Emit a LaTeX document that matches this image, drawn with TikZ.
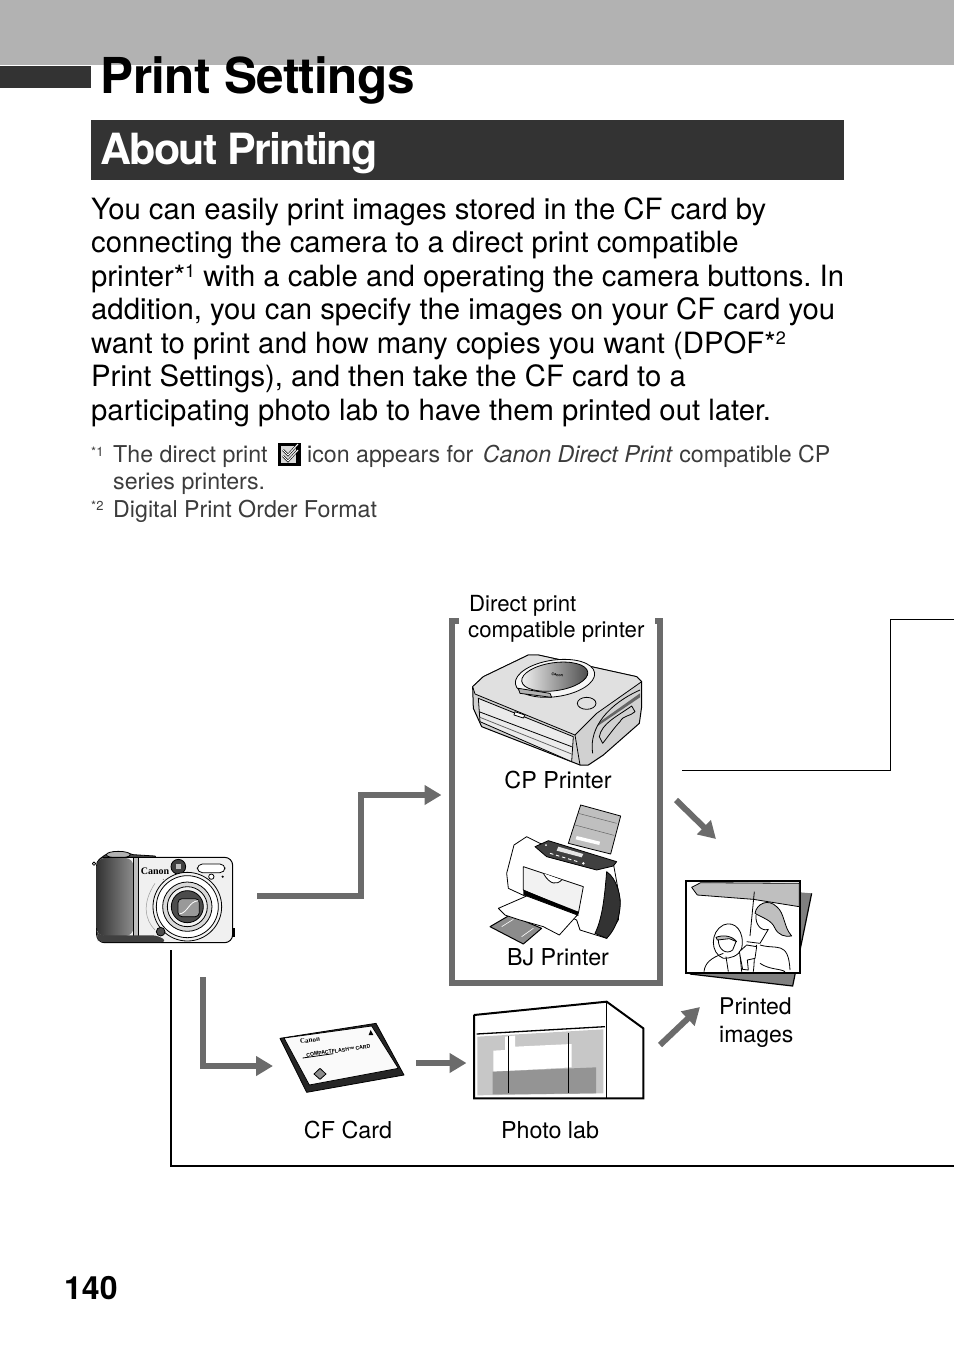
\documentclass[tikz,border=0pt]{standalone}
\usepackage{fontspec}
\setmainfont{TeX Gyre Heros}
\newfontfamily\logofont{Liberation Serif}
\usetikzlibrary{arrows.meta}
\definecolor{bandgray}{HTML}{B2B2B2}
\definecolor{darkband}{HTML}{333333}
\definecolor{flowgray}{HTML}{6B6B6B}
\definecolor{notegray}{HTML}{3C3C3C}
\tikzset{
	flowarrow/.style={draw=flowgray,line width=6pt,-{Triangle[length=17pt,width=19pt]}},
	pagerule/.style={draw=black,line width=1pt},
	bodytext/.style={anchor=north west,inner sep=0pt,align=left,font=\frenchspacing\fontsize{29.3}{33.5}\selectfont},
	notetext/.style={anchor=base west,inner sep=0pt,text=notegray,font=\frenchspacing\fontsize{23.2}{27}\selectfont},
	notemark/.style={anchor=base west,inner sep=0pt,text=notegray,font=\fontsize{13}{14}\selectfont},
	labeltext/.style={anchor=base,inner sep=0pt,font=\fontsize{23.3}{27}\selectfont},
	headtext/.style={anchor=base west,inner sep=0pt,font=\fontsize{22.2}{26}\selectfont},
	sketch/.style={draw=black,line width=0.8pt,line join=round}
}
\newcommand{\smallsup}[1]{\smash{\raisebox{9pt}{\fontsize{18}{18}\selectfont #1}}}
\begin{document}
\begin{tikzpicture}[x=1pt,y=-1pt]
\useasboundingbox (0,0) rectangle (954,1345);

\fill[bandgray] (0,0) rectangle (954,65);
\fill[darkband] (0,66) rectangle (91,88);
\fill[darkband] (91,120) rectangle (844,180);
\node[anchor=base west,inner sep=0pt,font=\bfseries\fontsize{49.5}{50}\selectfont\addfontfeature{LetterSpace=-1.3}] (title) at (100.5,93.5) {Print Settings};
\node[anchor=base west,inner sep=0pt,text=white,font=\bfseries\fontsize{43}{44}\selectfont\addfontfeature{LetterSpace=-4.2}] (heading) at (100.5,164.5) {About Printing};

\node[bodytext] (intro) at (91,197) {You can easily print images stored in the CF card by\\
connecting the camera to a direct print compatible\\
printer*\smallsup{1} with a cable and operating the camera buttons. In\\
addition, you can specify the images on your CF card you\\
want to print and how many copies you want (DPOF*\smallsup{2}\\
Print Settings), and then take the CF card to a\\
participating photo lab to have them printed out later.};

\node[notemark] (markA) at (91,456) {*1};
\node[notetext] (noteA) at (113,462) {The direct print};
\node[fill=black,minimum size=23pt,inner sep=0pt] (icon) at (289.5,454.5) {};
\fill[black!15] (281,446) rectangle (296,463);
\draw[black,line width=2.2pt] (283,450) to (288,455) to (298,444);
\draw[white,line width=1pt] (283,450) to (288,455) to (298,444);
\draw[black,line width=2.2pt] (283,456) to (288,461) to (298,450);
\draw[white,line width=1pt] (283,456) to (288,461) to (298,450);
\node[notetext] (noteB) at (307,462) {icon appears for\hspace{3pt} \textit{Canon Direct Print} compatible CP};
\node[notetext] (noteC) at (113,489) {series printers.};
\node[notemark] (markB) at (91,510) {*2};
\node[notetext] (noteD) at (113,517) {Digital Print Order Format};

\draw[pagerule] (954,619) to (890.5,619) to (890.5,770.5) to (682,770.5);
\draw[pagerule,line width=2pt] (171,950) to (171,1165.5) to (954,1165.5);

\draw[flowgray,line width=6pt] (459,620.5) to (451.5,620.5) to (451.5,983) to (659.5,983) to (659.5,620.5) to (655,620.5);
\node[headtext] (printerhead) at (469,611) {Direct print};
\node[headtext] (printerheadB) at (468,637) {compatible printer};
\node[labeltext] (cplabel) at (558,788) {CP Printer};
\node[labeltext] (bjlabel) at (558,965) {BJ Printer};
\node[labeltext] (cardlabel) at (348,1138) {CF Card};
\node[labeltext] (lablabel) at (550,1138) {Photo lab};
\node[labeltext,anchor=base west,font=\fontsize{23}{27}\selectfont] (printedA) at (719,1014.5) {Printed};
\node[labeltext,anchor=base west,font=\fontsize{23}{27}\selectfont] (printedB) at (719,1042.5) {images};
\node[anchor=base west,inner sep=0pt,font=\bfseries\fontsize{32}{32}\selectfont] (pagenum) at (64,1299) {140};

% camera
\begin{scope}[shift={(80,840)},scale=1/3]
	\draw[sketch,fill=black!70] (75,45) to (100,36) to (140,38) to (160,44) to (225,48) to (230,56) to (60,56) to cycle;
	\draw[sketch,fill=black!30] (115,44) ellipse (36 and 10);
	\draw[sketch,fill=white] (42,71) circle (5);
	\draw[sketch,line width=1pt,fill=black!6,rounded corners=8] (50,52) rectangle (458,308);
	\shade[left color=black!80,right color=black!45,rounded corners=8] (50,54) rectangle (160,288);
	\fill[black!25] (160,54) rectangle (175,288);
	\draw[sketch] (160,54) to (160,308);
	\draw[sketch] (175,54) to (175,308);
	\fill[black!75,rounded corners=6] (52,286) to (235,286) to (262,306) to (52,306) to cycle;
	\fill[black] (458,265) rectangle (465,292);
	\draw[sketch,fill=white,rounded corners=5] (352,72) rectangle (435,98);
	\draw[sketch,fill=white] (394,110) circle (8);
	\fill[black] (428,110) circle (3.5);
	\draw[sketch,fill=black!75] (295,80) circle (22);
	\fill[black!25] (288,73) rectangle (302,87);
	\draw[black!40,line width=0.5pt] (225,130) .. controls (185,190) and (195,240) .. (225,270);
	\draw[sketch,fill=black!5] (322,200) circle (103);
	\draw[sketch,fill=white] (322,200) circle (93);
	\draw[sketch,fill=black!15] (322,200) circle (74);
	\draw[sketch,fill=black!5] (322,200) circle (60);
	\draw[sketch,fill=black!70] (322,200) circle (48);
	\draw[sketch,fill=black!40,rounded corners=4] (294,176) rectangle (358,230);
	\draw[white,line width=0.8pt] (298,222) .. controls (325,218) and (325,185) .. (355,182);
	\draw[sketch,fill=black!70] (242,275) circle (13);
	\fill[black!70] (250,118) circle (1.5);
	\node[inner sep=0pt,font=\logofont\bfseries\fontsize{10}{10}\selectfont] (camname) at (225,93) {Canon};
\end{scope}

% printers
\begin{scope}[shift={(440,580)},scale=1/3]
	\draw[sketch,line width=1pt,fill=black!18] (98,320) to (130,290) to (265,225) to (295,225) to (590,290) to (605,305) to (605,380) to (598,430) to (490,525) to (445,555) to (420,555) to (125,440) to (100,385) to cycle;
	\draw[sketch,fill=black!12] (98,320) to (130,290) to (265,225) to (295,225) to (590,290) to (605,305) to (470,400) to (405,465) to (105,342) to cycle;
	\draw[sketch,fill=black!8] (115,355) to (400,470) to (395,545) to (120,425) to cycle;
	\draw[sketch] (117,395) to (395,500);
	\draw[sketch,black!60] (120,412) to (395,522);
	\draw[sketch] (405,465) to (420,555);
	\draw[sketch,fill=white] (225,395) to (255,405) to (250,414) to (222,405) to cycle;
	\draw[sketch,fill=black!3,rotate around={8:(345,295)}] (345,295) ellipse (120 and 55);
	\shade[left color=black!5,right color=black!70,rotate around={8:(345,295)}] (345,290) ellipse (100 and 42);
	\draw[sketch,rotate around={8:(345,295)}] (345,290) ellipse (100 and 42);
	\draw[sketch,fill=black!30] (235,325) to (330,340) to (335,352) to (240,340) to cycle;
	\draw[sketch] (440,370) ellipse (28 and 18);
	\draw[sketch] (478,470) .. controls (485,430) and (530,410) .. (575,378) to (585,395) .. controls (570,410) and (550,405) .. (540,425) .. controls (525,440) and (500,475) .. (488,490) to cycle;
	\fill[black!60] (470,440) to (480,425) to (600,340) to (600,352) to cycle;
	\draw[sketch] (458,520) .. controls (445,440) and (510,370) .. (600,330);
	\node[inner sep=0pt,rotate=-8,font=\bfseries\fontsize{3.8}{4}\selectfont] (cpname) at (352,285) {Canon};

	\draw[sketch,fill=black!25] (422,675) to (542,708) to (512,822) to (385,790) to cycle;
	\draw[black!60,line width=0.5pt] (415,700) to (530,730);
	\draw[black!60,line width=0.5pt] (405,735) to (522,766);
	\fill[white] (410,768) to (480,785) to (478,795) to (407,778) to cycle;
	\draw[sketch,fill=white] (200,880) to (222,795) to (260,770) to (300,790) to (520,850) to (540,960) to (535,1020) to (500,1075) to (420,1050) to (410,1020) to (205,925) to cycle;
	\draw[sketch,fill=black!80] (500,875) .. controls (530,895) and (545,950) .. (540,985) .. controls (535,1030) and (515,1060) .. (500,1075) to (465,1060) .. controls (490,1010) and (495,930) .. (500,875) to cycle;
	\draw[sketch,fill=black!75] (285,800) to (325,782) to (530,845) to (520,858) to (470,870) to (320,830) to cycle;
	\fill[black!10] (355,800) to (430,822) to (425,832) to (350,812) to cycle;
	\foreach \px in {330,348,366,384,402}
		\draw[white,line width=0.9pt] (\px,820+0.3*\px-99) to (\px+10,823.0+0.3*\px-99);
	\fill[white] (430,850) circle (4);
	\fill[white] (318,795) circle (3);
	\draw[sketch,fill=black!5] (250,860) to (430,920) to (415,1000) to (250,930) to cycle;
	\draw[sketch,fill=white] (310,880) .. controls (330,915) and (350,915) .. (365,900);
	\fill[black] (250,930) to (415,995) to (415,1008) to (250,945) to cycle;
	\draw[sketch,line width=1pt,fill=black!45] (150,1040) to (210,1005) to (305,1045) to (250,1092) to cycle;
	\draw[white,line width=0.6pt] (185,1040) to (220,1018);
	\draw[white,line width=0.6pt] (245,1070) to (280,1045);
	\draw[sketch,fill=white] (175,985) to (260,948) to (412,1005) to (358,1065) to (310,1040) to (240,1020) to (195,1005) to cycle;
\end{scope}

% card, lab and print
\begin{scope}[shift={(80,840)},scale=1/3]
	\draw[sketch,fill=black!85] (600,595) to (888,550) to (972,705) to (680,757) to cycle;
	\draw[sketch,fill=black!2] (612,594) to (875,558) to (955,685) to (688,735) to cycle;
	\fill[black] (866,585) to (872,570) to (880,585) to cycle;
	\draw[sketch,fill=black!45] (702,702) to (720,685) to (738,702) to (720,718) to cycle;
	\draw[sketch] (668,654) to (760,641);
	\node[inner sep=0pt,rotate=8,font=\logofont\bfseries\fontsize{7}{7}\selectfont] (cardname) at (690,601) {Canon};
	\node[inner sep=0pt,rotate=8,font=\bfseries\fontsize{5.2}{5.2}\selectfont] (cardtype) at (775,632) {COMPACTFLASH™ CARD};
\end{scope}
\begin{scope}[shift={(460,860)},scale=1/3]
	\fill[black!22] (52,530) to (430,508) to (430,700) to (52,706) to cycle;
	\fill[white] (100,572) to (135,570) to (135,530) to (165,527) to (165,560) to (335,552) to (335,622) to (100,635) to cycle;
	\fill[black!42] (98,635) to (408,622) to (408,700) to (98,703) to cycle;
	\draw[black,line width=1pt] (145,528) to (145,698);
	\draw[black,line width=1pt] (325,518) to (325,698);
	\draw[black,line width=1pt] (440,425) to (440,715);
	\draw[black,line width=1.3pt] (50,522) to (435,500);
	\draw[black,line width=2pt] (42,465) to (440,425) to (550,505) to (550,715) to (42,715) to cycle;

	\fill[black!50] (690,342) to (998,378) to (1055,100) to (1020,97) to cycle;
	\draw[black,line width=1.2pt] (690,342) to (998,378) to (1055,100);
	\draw[black,line width=2pt,fill=white] (677,62) rectangle (1020,340);
	\draw[sketch,fill=black!25] (695,82) to (722,68) to (1018,70) to (1018,140) to (880,118) to (712,105) to cycle;
	\draw[sketch] (883,95) to (870,228);
	\draw[sketch,fill=black!25] (885,160) .. controls (890,130) and (925,115) .. (950,140) .. controls (975,160) and (970,200) .. (995,228) .. controls (975,232) and (955,225) .. (945,205) .. controls (935,180) and (910,175) .. (885,160) to cycle;
	\draw[sketch] (888,165) .. controls (885,195) and (905,215) .. (925,208);
	\draw[sketch] (925,208) to (900,250) to (860,245);
	\draw[sketch] (900,255) .. controls (950,270) and (985,240) .. (990,330);
	\draw[sketch] (880,335) .. controls (885,300) and (880,270) .. (890,255);
	\draw[sketch] (900,310) .. controls (930,330) and (960,325) .. (975,335);
	\draw[sketch,fill=white] (790,295) .. controls (750,280) and (750,215) .. (790,195) .. controls (825,180) and (855,215) .. (845,265) .. controls (835,290) and (810,295) .. (790,295) to cycle;
	\draw[sketch,fill=black!25] (768,232) .. controls (785,225) and (815,225) .. (830,245) to (808,236) to (772,240) to cycle;
	\draw[sketch] (775,240) .. controls (775,270) and (800,285) .. (818,270) to (828,245);
	\draw[sketch] (732,335) .. controls (735,310) and (750,295) .. (790,280);
	\draw[sketch] (805,335) to (798,290);
	\draw[sketch] (840,285) to (845,335);
	\draw[sketch,fill=white] (838,275) to (860,255) to (890,260) to (885,295) to (862,300) to (865,330) to (848,328) to cycle;
\end{scope}

\coordinate (camout) at (257,896);
\coordinate (cambend) at (361,795);
\coordinate (boxin) at (441.5,795);
\draw[flowarrow] (camout) -| (cambend) to (boxin);
\coordinate (camdown) at (203,977);
\coordinate (cardbend) at (203,1066);
\coordinate (cardin) at (273,1066);
\draw[flowarrow] (camdown) to (cardbend) to (cardin);
\coordinate (cardout) at (416,1063);
\coordinate (labin) at (466.5,1063);
\draw[flowarrow] (cardout) to (labin);
\coordinate (labout) at (660,1045);
\coordinate (printin) at (700,1007);
\draw[flowarrow] (labout) to (printin);
\coordinate (boxout) at (676,800);
\coordinate (printtop) at (716,839);
\draw[flowarrow] (boxout) to (printtop);

\end{tikzpicture}
\end{document}
